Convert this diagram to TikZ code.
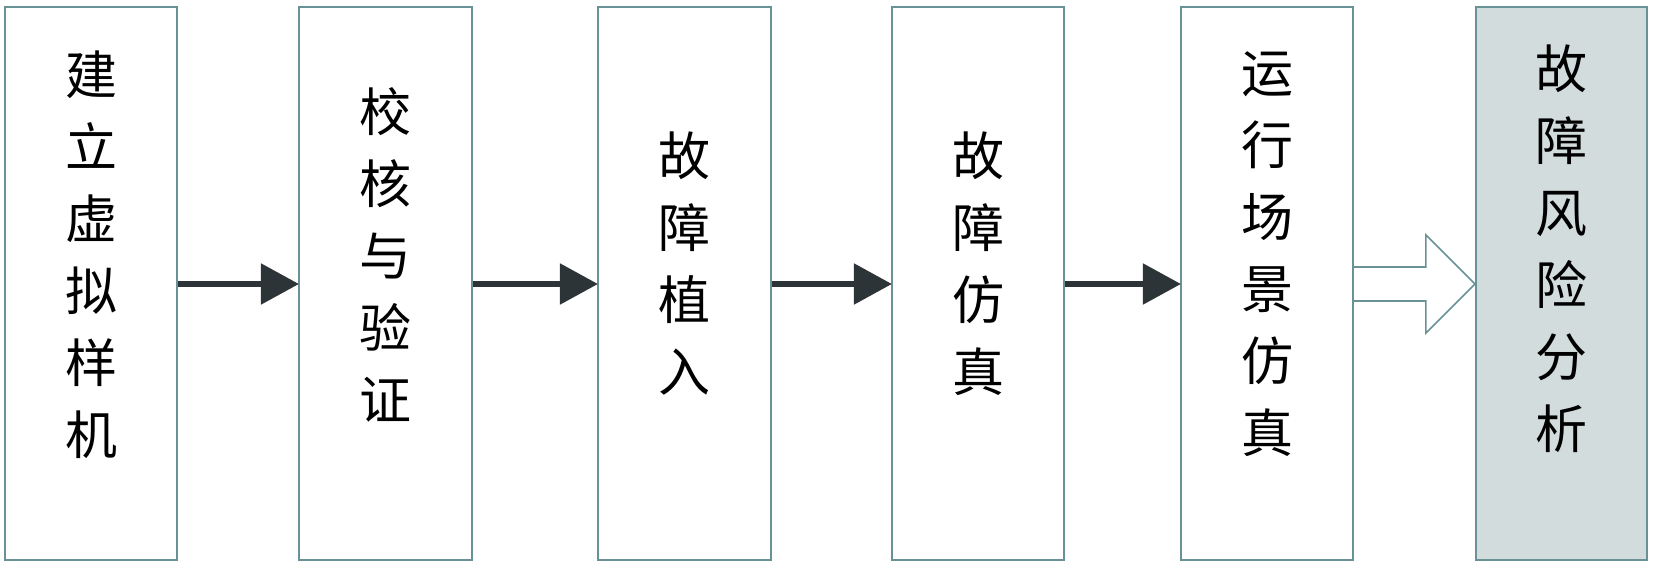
\documentclass[tikz,border=0pt]{standalone}
\usepackage{fontspec}
\newfontfamily\cjk{Noto Sans CJK SC}
\usetikzlibrary{arrows.meta,calc}
\definecolor{boxline}{RGB}{104,146,150}
\definecolor{boxfill}{RGB}{211,220,220}
\definecolor{arrowdark}{RGB}{45,52,55}
\tikzset{
  stepbox/.style={draw=boxline, line width=2.2pt, fill=white, minimum height=553pt, inner sep=0pt},
  steptext/.style={font=\cjk\fontsize{52pt}{72pt}\selectfont, align=center, inner sep=0pt, text=black},
  flowarrow/.style={draw=arrowdark, line width=5.5pt, -{Triangle[length=38pt,width=40pt]}, shorten >=-1pt},
  hollowarrow/.style={draw=boxline, line width=1.6pt, fill=white, line join=miter},
}
\begin{document}
\begin{tikzpicture}[x=1pt,y=1pt]
\useasboundingbox (0,0) rectangle (1654,571);
% boxes (tikz y = 571 - image y), image y 7..560 -> centre 287.5
\node[stepbox, minimum width=172pt] (b1) at (91,287.5) {};
\node[stepbox, minimum width=173pt] (b2) at (385.5,287.5) {};
\node[stepbox, minimum width=173pt] (b3) at (684.5,287.5) {};
\node[stepbox, minimum width=172pt] (b4) at (978,287.5) {};
\node[stepbox, minimum width=172pt] (b5) at (1267,287.5) {};
\node[stepbox, minimum width=171pt, fill=boxfill] (b6) at (1561.5,287.5) {};
% texts
\node[steptext] (t1) at (b1.center |- 0,316) {建\\立\\虚\\拟\\样\\机};
\node[steptext] (t2) at (b2.center |- 0,316) {校\\核\\与\\验\\证};
\node[steptext] (t3) at (b3.center |- 0,307) {故\\障\\植\\入};
\node[steptext] (t4) at (b4.center |- 0,307) {故\\障\\仿\\真};
\node[steptext] (t5) at (b5.center |- 0,317) {运\\行\\场\\景\\仿\\真};
\node[steptext] (t6) at (b6.center |- 0,322) {故\\障\\风\\险\\分\\析};
% arrows
\draw[flowarrow] (b1.east |- 0,287) -- (b2.west |- 0,287);
\draw[flowarrow] (b2.east |- 0,287) -- (b3.west |- 0,287);
\draw[flowarrow] (b3.east |- 0,287) -- (b4.west |- 0,287);
\draw[flowarrow] (b4.east |- 0,287) -- (b5.west |- 0,287);
\coordinate (ha) at (b5.east |- 0,287);
\coordinate (hb) at (b6.west |- 0,287);
\draw[hollowarrow] ($(ha)+(0,17)$) -- ($(hb)+(-49,17)$) -- ($(hb)+(-49,49)$) -- (hb)
  -- ($(hb)+(-49,-49)$) -- ($(hb)+(-49,-17)$) -- ($(ha)+(0,-17)$);
\end{tikzpicture}
\end{document}
